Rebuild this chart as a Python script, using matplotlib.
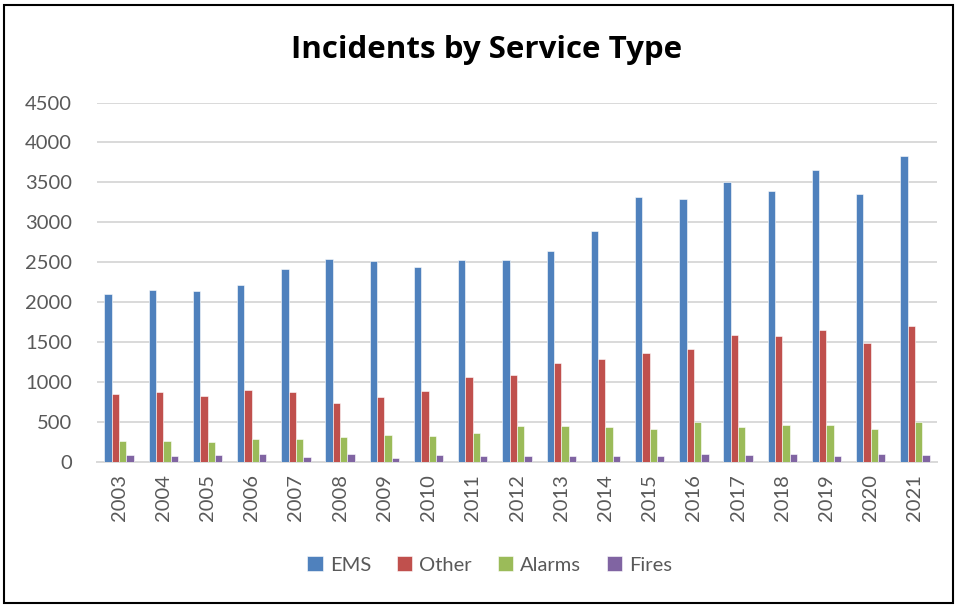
import matplotlib
matplotlib.use("Agg")
import matplotlib.pyplot as plt
import numpy as np
from matplotlib.patches import Rectangle

years = [str(y) for y in range(2003, 2022)]
ems = [2095, 2150, 2140, 2210, 2420, 2535, 2518, 2437, 2532, 2521, 2634, 2892, 3317,
       3292, 3509, 3396, 3655, 3350, 3834]
other = [846, 867, 821, 896, 875, 733, 808, 880, 1055, 1092, 1234, 1284, 1362,
         1417, 1584, 1571, 1650, 1487, 1696]
alarms = [262, 255, 246, 284, 280, 308, 330, 317, 362, 450, 446, 437, 409,
          496, 434, 459, 455, 412, 496]
fires = [84, 75, 84, 96, 55, 96, 50, 88, 75, 71, 67, 67, 75,
         96, 84, 96, 67, 96, 80]
series_names = ["EMS", "Other", "Alarms", "Fires"]
colors = ["#4F81BD", "#C0504D", "#9BBB59", "#8064A2"]
yticks = [0, 500, 1000, 1500, 2000, 2500, 3000, 3500, 4000, 4500]

plt.rcParams['font.family'] = ['Lato', 'DejaVu Sans']

fig = plt.figure(figsize=(9.56, 6.05), dpi=100)
W, H = 956, 605
ax = fig.add_axes([97 / W, 1 - 461.7 / H, (937 - 97) / W, (461.7 - 102.5) / H])

x = np.arange(len(years))
bw = 0.166
data = [ems, other, alarms, fires]
for i, (vals, c, name) in enumerate(zip(data, colors, series_names)):
    ax.bar(x + (i - 1.5) * bw, vals, width=bw, color=c, label=name,
           edgecolor="#ffffff", linewidth=0.4, zorder=3)

ax.set_xlim(-0.5, len(years) - 0.5)
ax.set_ylim(0, 4500)
ax.set_yticks(yticks)
ax.set_yticklabels([str(v) for v in yticks])
ax.set_xticks(x)
ax.set_xticklabels(years, rotation=90)
ax.grid(axis='y', color="#d9d9d9", linewidth=1.4, zorder=0)
for s in ["top", "right", "left"]:
    ax.spines[s].set_visible(False)
ax.spines["bottom"].set_color("#d9d9d9")
ax.spines["bottom"].set_linewidth(1.4)
ax.tick_params(axis='y', length=0, pad=18, labelsize=14.5, labelcolor="#595959")
ax.tick_params(axis='x', length=0, pad=9, labelsize=14.5, labelcolor="#595959")

fig.text(487 / W, 1 - 50 / H, "Incidents by Service Type", ha='center', va='center',
         fontsize=22.5, fontweight='bold', color='black', family=['Open Sans', 'DejaVu Sans'])

handles, labels = ax.get_legend_handles_labels()
fig.legend(handles, labels, loc='center', bbox_to_anchor=(490 / W, 1 - 565 / H), ncol=4,
           frameon=False, fontsize=14.5, labelcolor="#595959", handlelength=0.75,
           handleheight=0.75, handletextpad=0.35, columnspacing=1.3)

fig.add_artist(Rectangle((3.5 / W, 1 - 603 / H), (952.5 - 3.5) / W, (603 - 5) / H,
                         transform=fig.transFigure, fill=False, edgecolor='black',
                         linewidth=1.5))

fig.savefig("out.png", dpi=100)
